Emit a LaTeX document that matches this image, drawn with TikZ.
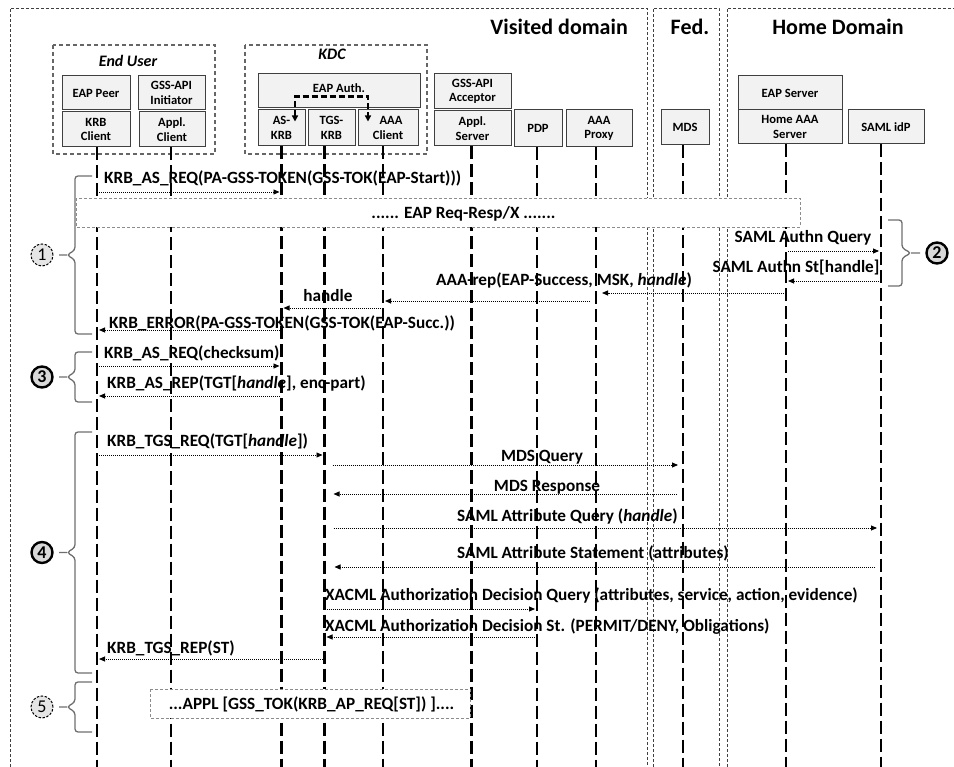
\documentclass[tikz,border=0pt]{standalone}
\usepackage{fontspec}
\setmainfont{Carlito}
\usetikzlibrary{arrows.meta,calc}

\definecolor{unitfill}{HTML}{F2F2F2}
\definecolor{unitline}{HTML}{404040}
\definecolor{bracegray}{HTML}{6E6E6E}

% curly bracket beside a phase: spine x, top y, bottom y, stub length, tip offset
\def\grpbrace(#1,#2,#3,#4,#5){\draw[grp] (#1+#4,#2) -- (#1,#2) -- (#1,{(#2+#3)/2-5}) -- (#1+#5,{(#2+#3)/2}) -- (#1,{(#2+#3)/2+5}) -- (#1,#3) -- (#1+#4,#3) (#1+#5,{(#2+#3)/2}) -- ++(#5,0);}

\tikzset{
  realm/.style={draw=black!75, line width=0.8pt, dash pattern=on 3pt off 2pt},
  groupbox/.style={draw=black!60, line width=1.3pt, dash pattern=on 4pt off 3pt},
  unit/.style={draw=unitline, fill=unitfill, line width=1pt, inner sep=0pt, align=center, font=\fontsize{12.6}{14.5}\selectfont\bfseries},
  lifeline/.style={line width=2.2pt, dash pattern=on 13pt off 5pt},
  msg/.style={line width=0.9pt, dash pattern=on 1pt off 1pt, -{Triangle[length=6pt,width=5pt]}, shorten >=2pt, shorten <=2pt},
  lbl/.style={inner sep=0pt, font=\fontsize{17.2}{20}\selectfont\bfseries},
  ttl/.style={inner sep=0pt, font=\fontsize{22}{26}\selectfont\bfseries},
  grouptitle/.style={inner sep=0pt, font=\fontsize{16}{19}\selectfont\bfseries\itshape},
  phasebox/.style={draw=black!45, line width=0.8pt, dash pattern=on 3pt off 2pt, fill=white},
  grp/.style={draw=bracegray, line width=1.3pt, rounded corners=3pt},
  stepmark/.style={circle, draw, fill=black!15, minimum size=21pt, inner sep=0pt, line width=2.4pt, font=\fontsize{18}{18}\selectfont\bfseries},
  stepdashed/.style={circle, draw, fill=black!10, minimum size=22pt, inner sep=0pt, line width=1pt, dash pattern=on 2.5pt off 1.5pt, font=\fontsize{18}{18}\selectfont},
  eapflow/.style={line width=2.2pt, dash pattern=on 6pt off 3pt, {Triangle[length=6pt,width=6pt]}-{Triangle[length=6pt,width=6pt]}}
}

\begin{document}
\begin{tikzpicture}[x=1pt,y=-1pt]
	\useasboundingbox (0,0) rectangle (954,767);
	
	%%%%% domains %%%%%
	\draw[realm] (10,767) -- (10,8) -- (647,8) -- (647,767);
	\draw[realm] (653,767) -- (653,8) -- (719,8) -- (719,767);
	\draw[realm] (727,767) -- (727,8) -- (954,8);
	\node[ttl, anchor=base east] (visited) at (628,35) {Visited domain};
	\node[ttl, anchor=base] (fed) at (690,35) {Fed.};
	\node[ttl, anchor=base] (home) at (838,35) {Home Domain};
	
	%%%%% entities %%%%%
	\draw[groupbox] (53,45) rectangle (215,154);
	\node[grouptitle, anchor=base] (enduser) at (128,67) {End User};
	\draw[groupbox] (245,45) rectangle (427,154);
	\node[grouptitle, anchor=base] (kdc) at (332,60) {KDC};
	
	\node[unit, minimum width=68, minimum height=34] (eappeer) at (96,93) {EAP Peer};
	\node[unit, minimum width=68, minimum height=35] (krbc) at (96,129.5) {KRB\\Client};
	\node[unit, minimum width=67, minimum height=34] (gssi) at (171.5,93) {GSS-API\\Initiator};
	\node[unit, minimum width=66, minimum height=35] (applc) at (172,129.5) {Appl.\\Client};
	
	\node[unit, minimum width=162, minimum height=34] (eapauth) at (339,91) {\raisebox{6pt}{EAP Auth.}};
	\node[unit, minimum width=47, minimum height=36] (askrb) at (281.5,128) {AS-\hspace{6pt}\\KRB};
	\node[unit, minimum width=47, minimum height=36] (tgskrb) at (331.5,128) {TGS-\\KRB};
	\node[unit, minimum width=60, minimum height=36] (aaac) at (388,128) {\hspace{6pt}AAA\\Client};
	\draw[eapflow] ($(askrb.north)+(13.5,12)$) -- ++(0,-25) -| ($(aaac.north)+(-20,12)$);
	
	\node[unit, minimum width=77, minimum height=35] (gssa) at (472.5,91.5) {GSS-API\\Acceptor};
	\node[unit, minimum width=77, minimum height=35] (applsrv) at (472.5,128.5) {Appl.\\Server};
	\node[unit, minimum width=48, minimum height=37] (pdp) at (538,128.5) {PDP};
	\node[unit, minimum width=66, minimum height=37] (proxy) at (599,128.5) {AAA\\Proxy};
	\node[unit, minimum width=48, minimum height=35] (mds) at (685,127.5) {MDS};
	\node[unit, minimum width=104, minimum height=34] (eapsrv) at (790,93) {EAP Server};
	\node[unit, minimum width=104, minimum height=34] (haaa) at (790,127) {Home AAA\\Server};
	\node[unit, minimum width=76, minimum height=34] (idp) at (886,127) {SAML idP};
	
	% lifelines
	\foreach \b/\dx in {krbc/1, applc/-1, askrb/0, tgskrb/-7, aaac/-5, applsrv/-1, pdp/-1, proxy/-3, mds/-2, haaa/-4, idp/-5} {
		\coordinate (L-\b) at ([xshift=\dx]\b.south);
		\draw[lifeline] (L-\b) -- (L-\b |- 0,767);
	}
	
	%%%%% phase 1 %%%%%
	\node[lbl, anchor=base west] (m1) at (104,183.5) {KRB\_AS\_REQ(PA-GSS-TOKEN(GSS-TOK(EAP-Start)))};
	\draw[msg] (L-krbc |- 0,192) -- (L-askrb |- 0,192);
	
	\draw[phasebox] (76,198) rectangle (800,227);
	\node[lbl, anchor=base] (eapx) at (463.5,218.5) {...... EAP Req-Resp/X .......};
	
	\node[lbl, anchor=base] (m2) at (803,242.5) {SAML Authn Query};
	\draw[msg] (L-haaa |- 0,251) -- (L-idp |- 0,251);
	\node[lbl, anchor=base] (m3) at (796,272.5) {SAML Authn St[handle]};
	\draw[msg] (L-idp |- 0,281) -- (L-haaa |- 0,281);
	
	\node[lbl, anchor=base west] (m4) at (436,286) {AAA-rep(EAP-Success, MSK, \textit{handle})};
	\draw[msg, shorten >=6pt] (L-haaa |- 0,293) -- (L-proxy |- 0,293);
	\draw[msg, shorten <=6pt] (L-proxy |- 0,301) -- (L-aaac |- 0,301);
	
	\node[lbl, anchor=base] (m5) at (328,301.5) {handle};
	\draw[msg] (L-aaac |- 0,308) -- (L-askrb |- 0,308);
	
	\node[lbl, anchor=base west] (m6) at (109,328.5) {KRB\_ERROR(PA-GSS-TOKEN(GSS-TOK(EAP-Succ.))};
	\draw[msg] (L-askrb |- 0,330) -- (L-krbc |- 0,330);
	
	%%%%% phase 3 %%%%%
	\node[lbl, anchor=base west] (m7) at (104,358.5) {KRB\_AS\_REQ(checksum)};
	\draw[msg] (L-krbc |- 0,366) -- (L-askrb |- 0,366);
	\node[lbl, anchor=base west] (m8) at (107,388.5) {KRB\_AS\_REP(TGT[\textit{handle}], enc-part)};
	\draw[msg] (L-askrb |- 0,396) -- (L-krbc |- 0,396);
	
	%%%%% phase 4 %%%%%
	\node[lbl, anchor=base west] (m9) at (107,446.5) {KRB\_TGS\_REQ(TGT[\textit{handle}])};
	\draw[msg] (L-krbc |- 0,455) -- (L-tgskrb |- 0,455);
	
	\node[lbl, anchor=base] (m10) at (542,461.5) {MDS Query};
	\draw[msg, shorten <=8pt, shorten >=5pt] (L-tgskrb |- 0,465) -- (L-mds |- 0,465);
	\node[lbl, anchor=base] (m11) at (547,491.5) {MDS Response};
	\draw[msg, shorten <=6pt, shorten >=9pt] (L-mds |- 0,494) -- (L-tgskrb |- 0,494);
	
	\node[lbl, anchor=base west] (m12) at (457,521.5) {SAML Attribute Query (\textit{handle})};
	\draw[msg, shorten <=9pt, shorten >=4pt] (L-tgskrb |- 0,528) -- (L-idp |- 0,528);
	\node[lbl, anchor=base west] (m13) at (457,558.5) {SAML Attribute Statement (attributes)};
	\draw[msg, shorten <=6pt, shorten >=10pt] (L-idp |- 0,567) -- (L-tgskrb |- 0,567);
	
	\node[lbl, anchor=base west] (m14) at (325,600.5) {XACML Authorization Decision Query (attributes, service, action, evidence)};
	\draw[msg] (L-tgskrb |- 0,609) -- (L-pdp |- 0,609);
	\node[lbl, anchor=base west] (m15) at (325,631.5) {XACML Authorization Decision St. (PERMIT/DENY, Obligations)};
	\draw[msg] (L-pdp |- 0,637) -- (L-tgskrb |- 0,637);
	
	\node[lbl, anchor=base west] (m16) at (107,653.5) {KRB\_TGS\_REP(ST)};
	\draw[msg] (L-tgskrb |- 0,659) -- (L-krbc |- 0,659);
	
	%%%%% phase 5 %%%%%
	\draw[phasebox] (150,689) rectangle (470,718);
	\node[lbl, anchor=base] (appl) at (311.5,709.5) {...APPL [GSS\_TOK(KRB\_AP\_REQ[ST]) ]....};
	
	%%%%% phases %%%%%
	\grpbrace(75,176,334,17,-8)
	\grpbrace(902,220,286,-14,9)
	\grpbrace(75,352,402,17,-8)
	\grpbrace(75,432,673,17,-8)
	\grpbrace(75,682,732,17,-8)
	
	\node[stepdashed] (s1) at (42,255) {1};
	\node[stepmark] (s2) at (937,253) {2};
	\node[stepmark] (s3) at (42,377) {3};
	\node[stepmark] (s4) at (42,552.5) {4};
	\node[stepdashed] (s5) at (42,707) {5};
	
\end{tikzpicture}
\end{document}
